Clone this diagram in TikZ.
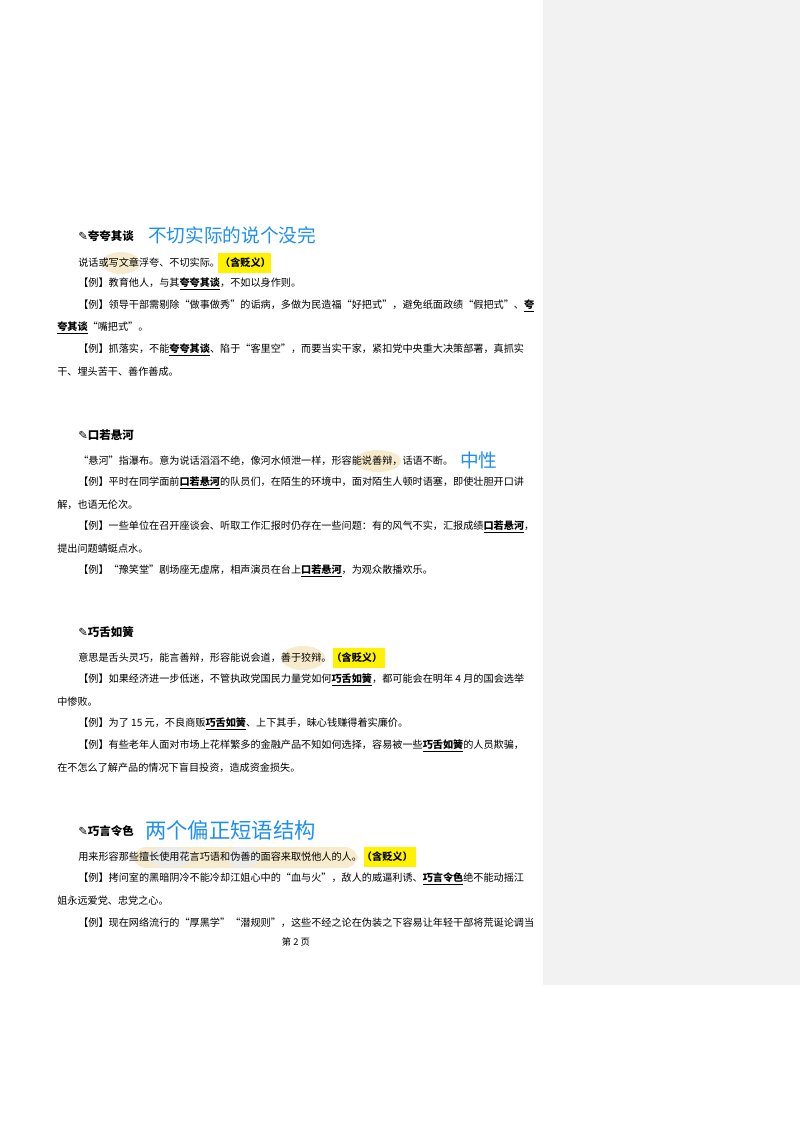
\documentclass[tikz,border=0pt]{standalone}
\usepackage{fontspec}
\setmainfont{Noto Sans CJK SC}
\newfontfamily\symf{DejaVu Sans}
\newfontfamily\handf{Noto Sans CJK SC}
\newcommand{\kw}[1]{\textbf{\underline{#1}}}
\newcommand{\pen}{{\symf\char"270E}}
\begin{document}
\begin{tikzpicture}[x=0.75pt,y=-0.75pt,
  txt/.style={anchor=west,inner sep=0pt,font=\fontsize{7.6}{9}\selectfont},
  head/.style={anchor=west,inner sep=0pt,font=\fontsize{8.6}{10}\selectfont\bfseries},
  hand/.style={anchor=west,inner sep=0pt,text=handblue,font=\fontsize{14}{16}\selectfont\handf},
  hl/.style={fill=hlbeige,draw=none},
  yb/.style={fill=yellow,draw=none}]
\definecolor{handblue}{HTML}{1E8FF0}
\definecolor{hlbeige}{HTML}{F7EBCD}
\definecolor{panel}{HTML}{F2F2F2}
\useasboundingbox (0,0) rectangle (800,1132);
\fill[white] (0,0) rectangle (800,1132);
\fill[panel] (543,0) rectangle (800,985);
% highlights
\fill[hl] (121,263) ellipse (19 and 11);
\fill[hl] (378,461) ellipse (23 and 11);
\fill[hl] (303,658) ellipse (22 and 12);
\fill[hl,rounded corners=10] (133,847) rectangle (358,868);
\fill[fill=gray!15] (170,857) ellipse (22 and 10);
\fill[fill=gray!15] (243,857) ellipse (17 and 10);
\fill[yb] (218,253) rectangle (271,273);
\fill[yb] (333,648) rectangle (385,668);
\fill[yb] (364,847) rectangle (416,867);
% section 1
\node[head] (h1) at (78,236) {\pen 夸夸其谈};
\node[hand] (a1) at (148,235) {不切实际的说个没完};
\node[txt] (l1) at (78,263) {说话或写文章浮夸、不切实际。\textbf{（含贬义）}};
\node[txt] (l2) at (78,284) {【例】教育他人，与其\kw{夸夸其谈}，不如以身作则。};
\node[txt] (l3) at (78,306) {【例】领导干部需剔除“做事做秀”的诟病，多做为民造福“好把式”，避免纸面政绩“假把式”、\kw{夸}};
\node[txt] (l4) at (57,328) {\kw{夸其谈}“嘴把式”。};
\node[txt] (l5) at (78,350) {【例】抓落实，不能\kw{夸夸其谈}、陷于“客里空”，而要当实干家，紧扣党中央重大决策部署，真抓实};
\node[txt] (l6) at (57,372) {干、埋头苦干、善作善成。};
% section 2
\node[head] (h2) at (78,435) {\pen 口若悬河};
\node[txt] (m1) at (78,461) {“悬河”指瀑布。意为说话滔滔不绝，像河水倾泄一样，形容能说善辩，话语不断。};
\node[hand,font=\fontsize{14}{16}\selectfont] (a2) at (460,460) {中性};
\node[txt] (m2) at (78,483) {【例】平时在同学面前\kw{口若悬河}的队员们，在陌生的环境中，面对陌生人顿时语塞，即使壮胆开口讲};
\node[txt] (m3) at (57,505) {解，也语无伦次。};
\node[txt] (m4) at (78,527) {【例】一些单位在召开座谈会、听取工作汇报时仍存在一些问题：有的风气不实，汇报成绩\kw{口若悬河}，};
\node[txt] (m5) at (57,549) {提出问题蜻蜓点水。};
\node[txt] (m6) at (78,571) {【例】“豫笑堂”剧场座无虚席，相声演员在台上\kw{口若悬河}，为观众散播欢乐。};
% section 3
\node[head] (h3) at (78,632) {\pen 巧舌如簧};
\node[txt] (n1) at (78,658) {意思是舌头灵巧，能言善辩，形容能说会道，善于狡辩。\textbf{（含贬义）}};
\node[txt] (n2) at (78,680) {【例】如果经济进一步低迷，不管执政党国民力量党如何\kw{巧舌如簧}，都可能会在明年 4 月的国会选举};
\node[txt] (n3) at (57,702) {中惨败。};
\node[txt] (n4) at (78,724) {【例】为了 15 元，不良商贩\kw{巧舌如簧}、上下其手，昧心钱赚得着实廉价。};
\node[txt] (n5) at (78,746) {【例】有些老年人面对市场上花样繁多的金融产品不知如何选择，容易被一些\kw{巧舌如簧}的人员欺骗，};
\node[txt] (n6) at (57,768) {在不怎么了解产品的情况下盲目投资，造成资金损失。};
% section 4
\node[head] (h4) at (78,831) {\pen 巧言令色};
\node[hand,font=\fontsize{16}{18}\selectfont] (a4) at (145,830) {两个偏正短语结构};
\node[txt] (p1) at (78,857) {用来形容那些擅长使用花言巧语和伪善的面容来取悦他人的人。\textbf{（含贬义）}};
\node[txt] (p2) at (78,879) {【例】拷问室的黑暗阴冷不能冷却江姐心中的“血与火”，敌人的威逼利诱、\kw{巧言令色}绝不能动摇江};
\node[txt] (p3) at (57,901) {姐永远爱党、忠党之心。};
\node[txt] (p4) at (78,923) {【例】现在网络流行的“厚黑学”“潜规则”，这些不经之论在伪装之下容易让年轻干部将荒诞论调当};
\node[inner sep=0pt,font=\fontsize{7}{9}\selectfont] (pg) at (296,942) {第 2 页};
\end{tikzpicture}
\end{document}
